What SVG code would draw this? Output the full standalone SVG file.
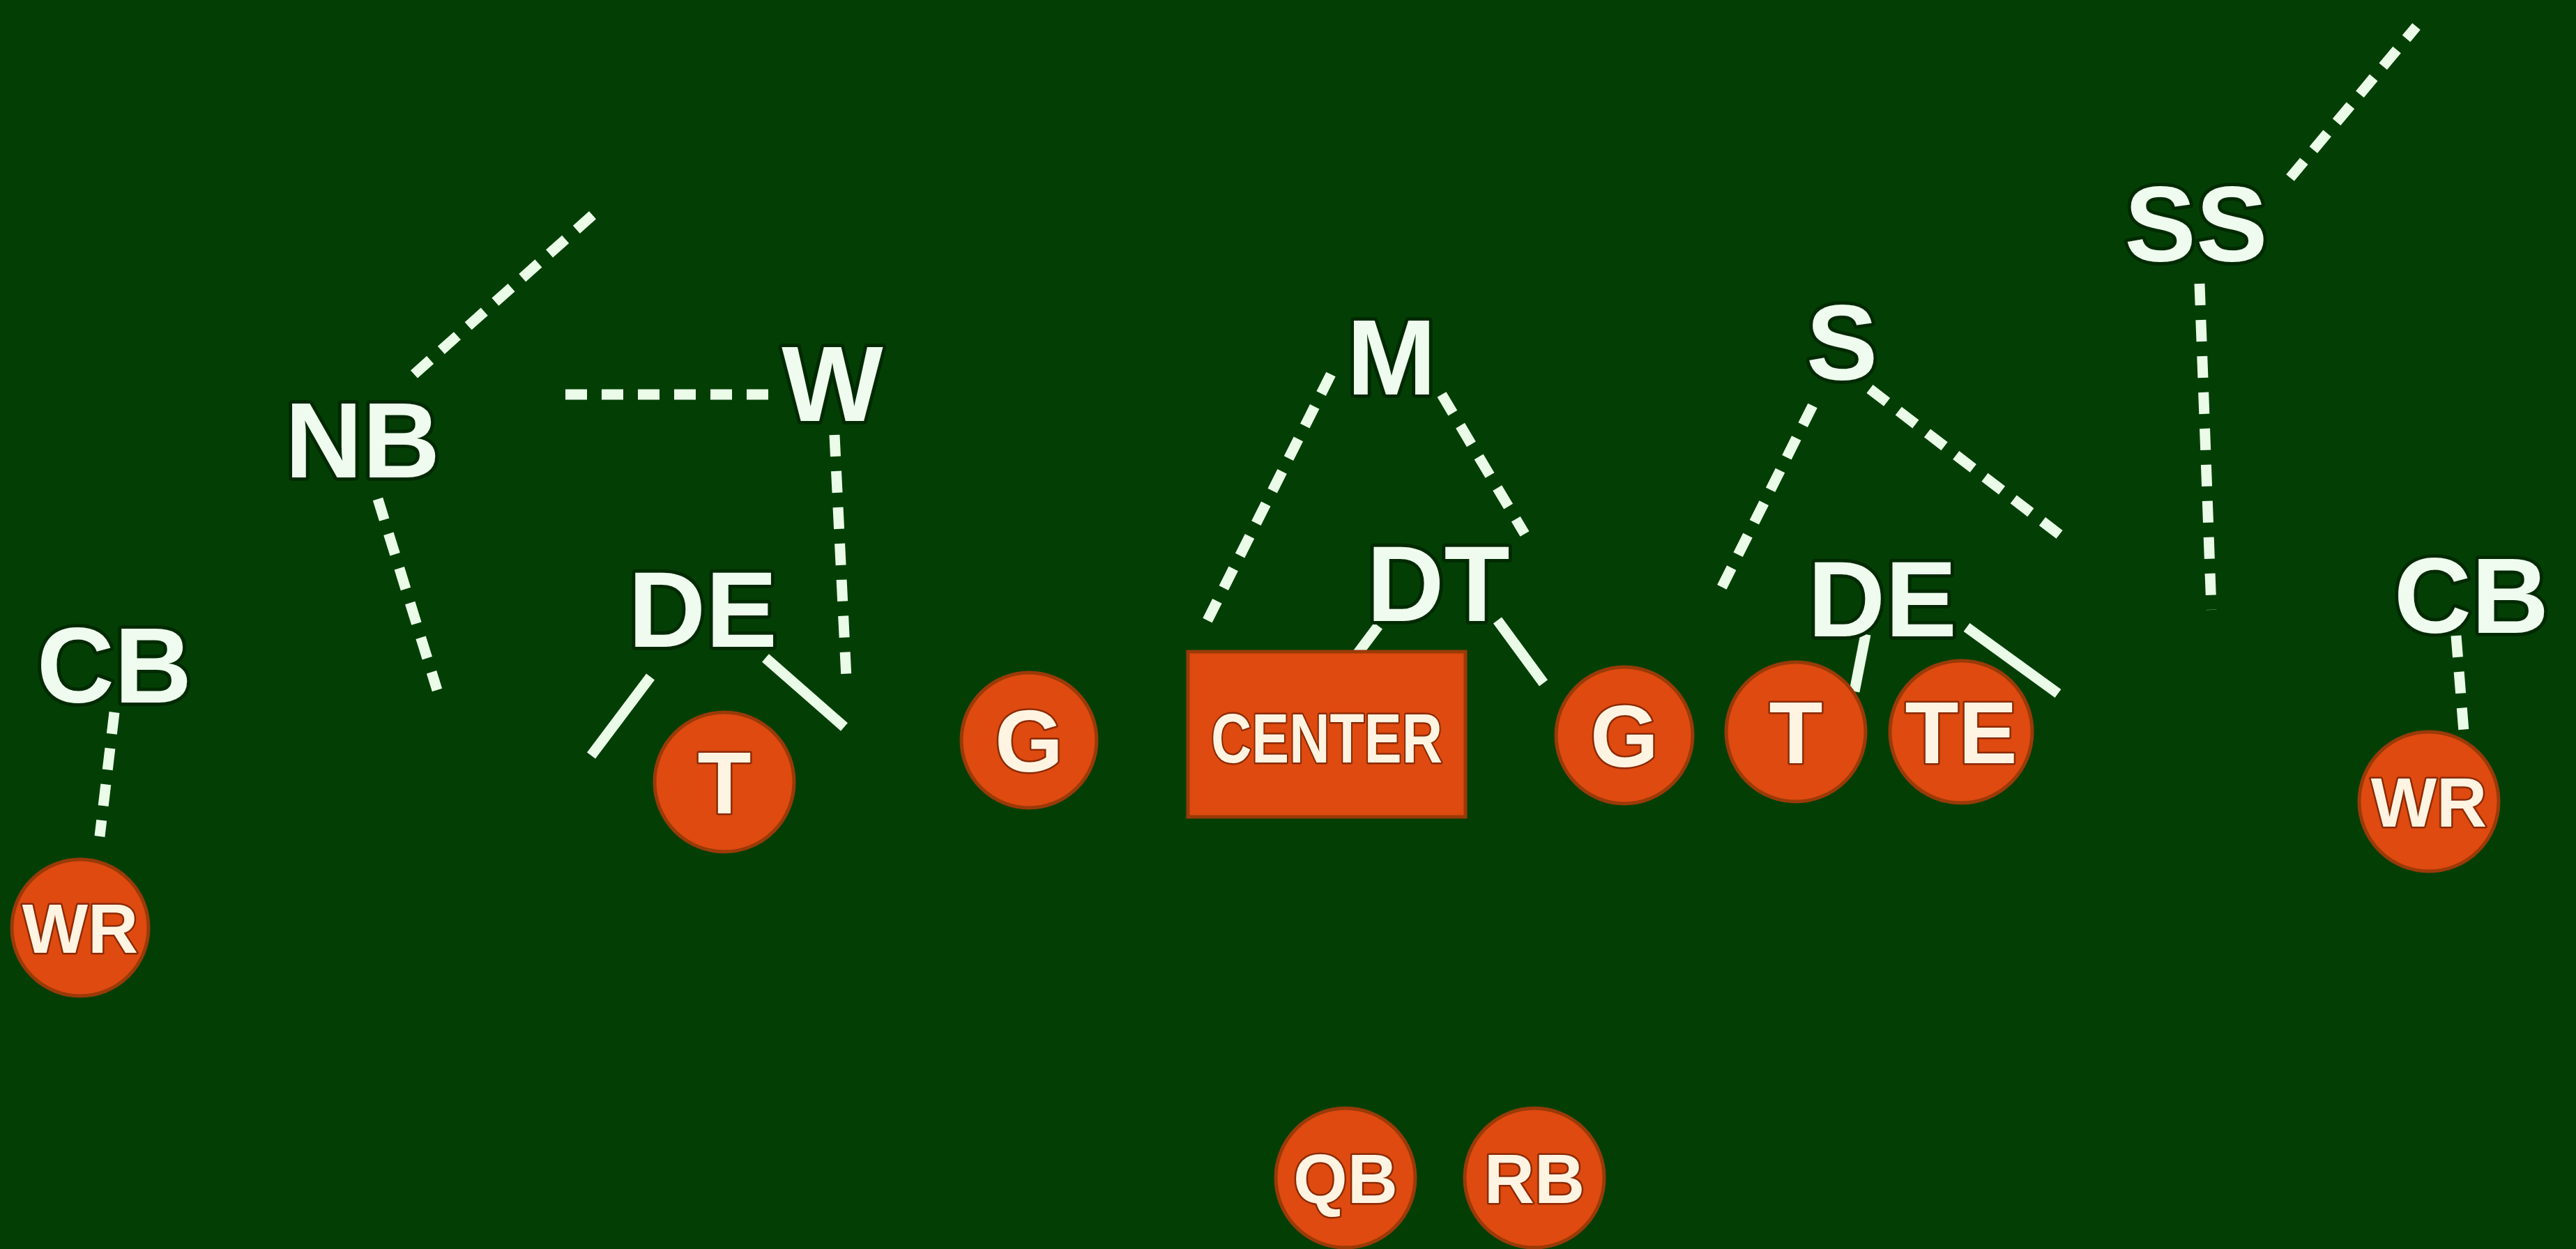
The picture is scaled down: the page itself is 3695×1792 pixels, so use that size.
<svg xmlns="http://www.w3.org/2000/svg" width="3695" height="1792" viewBox="0 0 3695 1792">
<style>
.bg{fill:#033f05}
.lbl{font-family:"Liberation Sans",Arial,sans-serif;font-weight:bold;font-size:154px;fill:#eefbee;text-anchor:middle;stroke:#012a02;stroke-width:10px;paint-order:stroke;stroke-linejoin:round}
.pl{fill:#de4a0f;stroke:#9a3a08;stroke-width:5}
.pt{font-family:"Liberation Sans",Arial,sans-serif;font-weight:bold;fill:#fff4e2;text-anchor:middle;stroke:#8c2a05;stroke-width:5px;paint-order:stroke;stroke-linejoin:round}
.big{font-size:126px}
.sm{font-size:100px}
.dash{stroke:#eafbe8;stroke-width:15;stroke-dasharray:31 21;fill:none}
.solid{stroke:#eafbe8;stroke-width:15;fill:none}
</style>
<rect class="bg" x="0" y="0" width="3695" height="1792"/>
<g id="connectors">
<line class="dash" x1="164" y1="1022" x2="143" y2="1200"/>
<line class="dash" x1="594" y1="537" x2="853" y2="306"/>
<line class="dash" x1="542" y1="716" x2="627" y2="990"/>
<line class="dash" x1="811" y1="566" x2="1106" y2="566"/>
<line class="dash" x1="1197" y1="624" x2="1214" y2="973"/>
<line class="solid" x1="933" y1="971" x2="848" y2="1084"/>
<line class="solid" x1="1098" y1="944" x2="1211" y2="1043"/>
<line class="dash" x1="1909" y1="537" x2="1723" y2="908"/>
<line class="dash" x1="2068" y1="566" x2="2187" y2="766"/>
<line class="solid" x1="1977" y1="898" x2="1938" y2="950"/>
<line class="solid" x1="2148" y1="890" x2="2214" y2="980"/>
<line class="dash" x1="2600" y1="582" x2="2468" y2="846"/>
<line class="dash" x1="2682" y1="558" x2="2962" y2="773"/>
<line class="solid" x1="2676" y1="910" x2="2660" y2="992"/>
<line class="solid" x1="2821" y1="900" x2="2952" y2="995"/>
<line class="dash" x1="3285" y1="255" x2="3466" y2="38"/>
<line class="dash" x1="3155" y1="407" x2="3172" y2="875"/>
<line class="dash" x1="3523" y1="912" x2="3535" y2="1062"/>
</g>
<g id="cb-left"><text class="lbl" x="164" y="1008">CB</text></g>
<g id="nb"><text class="lbl" x="520" y="685">NB</text></g>
<g id="w"><text class="lbl" x="1194" y="604">W</text></g>
<g id="de-left"><text class="lbl" x="1008" y="928">DE</text></g>
<g id="m"><text class="lbl" x="1996" y="566">M</text></g>
<g id="dt"><text class="lbl" x="2063" y="891">DT</text></g>
<g id="s"><text class="lbl" x="2642" y="545">S</text></g>
<g id="de-right"><text class="lbl" x="2700" y="913">DE</text></g>
<g id="ss"><text class="lbl" x="3150" y="375">SS</text></g>
<g id="cb-right"><text class="lbl" x="3545" y="908">CB</text></g>
<g id="wr-left"><circle class="pl" cx="115" cy="1331" r="98"/><text class="pt sm" x="115" y="1367">WR</text></g>
<g id="t-left"><circle class="pl" cx="1039" cy="1122" r="100"/><text class="pt big" x="1039" y="1167">T</text></g>
<g id="g-left"><circle class="pl" cx="1476" cy="1062" r="97"/><text class="pt big" x="1476" y="1107">G</text></g>
<g id="center"><rect class="pl" x="1704" y="935" width="398" height="237"/><text class="pt sm" x="1903" y="1094" textLength="332" lengthAdjust="spacingAndGlyphs">CENTER</text></g>
<g id="g-right"><circle class="pl" cx="2330" cy="1055" r="98"/><text class="pt big" x="2330" y="1100">G</text></g>
<g id="t-right"><circle class="pl" cx="2576" cy="1050" r="100"/><text class="pt big" x="2576" y="1095">T</text></g>
<g id="te"><circle class="pl" cx="2813" cy="1050" r="102"/><text class="pt big" x="2813" y="1095">TE</text></g>
<g id="wr-right"><circle class="pl" cx="3484" cy="1150" r="100"/><text class="pt sm" x="3484" y="1186">WR</text></g>
<g id="qb"><circle class="pl" cx="1930" cy="1690" r="100"/><text class="pt sm" x="1930" y="1726">QB</text></g>
<g id="rb"><circle class="pl" cx="2201" cy="1690" r="100"/><text class="pt sm" x="2201" y="1726">RB</text></g>
</svg>
